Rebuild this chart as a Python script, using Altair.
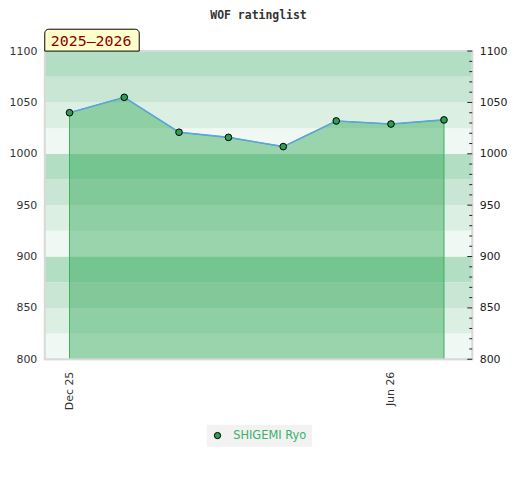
import altair as alt
import pandas as pd

# ---- data ----
dates = ["2025-12-01", "2026-01-01", "2026-02-01", "2026-03-01",
         "2026-04-01", "2026-05-01", "2026-06-01", "2026-07-01"]
ratings = [1040, 1055, 1021, 1016, 1007, 1032, 1029, 1033]
player = "SHIGEMI Ryo"
season = "2025–2026"

band_lo = [800, 825, 850, 875, 900, 925, 950, 975, 1000, 1025, 1050, 1075]
band_hi = [825, 850, 875, 900, 925, 950, 975, 1000, 1025, 1050, 1075, 1100]
band_level = [0, 1, 2, 3, 0, 1, 2, 3, 0, 1, 2, 3]

y_labels = [800, 850, 900, 950, 1000, 1050, 1100]
minor_ticks = [810, 820, 830, 840, 860, 870, 880, 890, 910, 920, 930, 940,
               960, 970, 980, 990, 1010, 1020, 1030, 1040, 1060, 1070, 1080, 1090]
major_ticks = [800, 850, 900, 950, 1000, 1050, 1100]

W, H = 430, 310
FONT = "DejaVu Sans"
MONO = "DejaVu Sans Mono"

series = pd.DataFrame({"date": dates, "rating": ratings, "player": player})
bands_df = pd.DataFrame({"lo": band_lo, "hi": band_hi, "level": band_level})
minor_df = pd.DataFrame({"v": minor_ticks})
major_df = pd.DataFrame({"v": major_ticks})
one_df = pd.DataFrame({"season": [season]})

yscale = alt.Scale(domain=[800, 1100], nice=False, zero=False)
xscale = alt.Scale(type="utc",
                   domain=[alt.DateTime(year=2025, month=11, date=17, utc=True),
                           alt.DateTime(year=2026, month=7, date=17, utc=True)])

xenc = alt.X("date:T", scale=xscale, title=None,
             axis=alt.Axis(values=[alt.DateTime(year=2025, month=12, date=1, utc=True),
                                   alt.DateTime(year=2026, month=6, date=1, utc=True)],
                           format="%b %y", labelAngle=270, ticks=False, domain=False,
                           grid=False, labelPadding=12, labelFont=FONT, labelFontSize=11,
                           labelColor="#333333"))

bands = alt.Chart(bands_df).mark_rect().encode(
    x=alt.value(0), x2=alt.value(W),
    y=alt.Y("lo:Q", scale=yscale, title=None,
            axis=alt.Axis(orient="left", values=y_labels, format="d", ticks=False,
                          domain=False, grid=False, labelPadding=8, labelFont=FONT,
                          labelFontSize=11, labelColor="#333333")),
    y2="hi:Q",
    fill=alt.Fill("level:O", scale=alt.Scale(domain=[0, 1, 2, 3],
                  range=["#eff8f2", "#dcefe3", "#c8e6d3", "#b2dec3"]), legend=None),
)

area = alt.Chart(series).mark_area(color="#22a34c", fillOpacity=0.42,
                                   stroke="#3cb05a", strokeWidth=1).encode(
    x=xenc,
    y=alt.Y("rating:Q", scale=yscale, axis=None),
    y2=alt.datum(800),
)

line = alt.Chart(series).mark_line(color="#5ba4dc", strokeWidth=1.6).encode(
    x=xenc,
    y=alt.Y("rating:Q", scale=yscale, axis=None),
)

points = alt.Chart(series).mark_point(filled=True, size=45, opacity=1,
                                      stroke="black", strokeWidth=1).encode(
    x=xenc,
    y=alt.Y("rating:Q", scale=yscale, axis=None),
    color=alt.Color("player:N", scale=alt.Scale(range=["#2e9e55"]),
                    legend=alt.Legend(orient="none", legendX=163, legendY=376,
                                      title=None, fillColor="#f2f2f2", padding=5,
                                      labelColor="#3cb06a", labelFont=FONT,
                                      labelFontSize=11.5, labelOffset=10,
                                      symbolType="circle", symbolSize=40,
                                      symbolStrokeColor="black", symbolStrokeWidth=1,
                                      symbolOpacity=1)),
)

border = alt.Chart(one_df).mark_rect(fillOpacity=0, stroke="#d9d9d9", strokeWidth=2).encode(
    x=alt.value(0), x2=alt.value(W), y=alt.value(0), y2=alt.value(H),
)

minor = alt.Chart(minor_df).mark_rule(color="#222222", strokeWidth=1).encode(
    x=alt.value(W - 3), x2=alt.value(W),
    y=alt.Y("v:Q", scale=yscale, axis=None),
)

major = alt.Chart(major_df).mark_rule(color="#222222", strokeWidth=1).encode(
    x=alt.value(W - 5), x2=alt.value(W),
    y=alt.Y("v:Q", scale=yscale, title=None,
            axis=alt.Axis(orient="right", values=y_labels, format="d", ticks=False,
                          domain=False, grid=False, labelPadding=7, labelFont=FONT,
                          labelFontSize=11, labelColor="#222222")),
)

box = alt.Chart(one_df).mark_rect(fill="#ffffcc", stroke="black", strokeWidth=1,
                                  cornerRadiusTopLeft=4, cornerRadiusTopRight=4).encode(
    x=alt.value(0), x2=alt.value(95), y=alt.value(-22), y2=alt.value(0),
)

box_text = alt.Chart(one_df).mark_text(font=MONO, fontSize=15, color="#8b0000",
                                       align="left", baseline="middle").encode(
    x=alt.value(6), y=alt.value(-10), text="season:N",
)

chart = alt.layer(bands, area, line, points, border, minor, major, box, box_text).resolve_axis(
    y="independent"
).properties(
    width=W, height=H,
    title=alt.TitleParams("WOF ratinglist", font=MONO, fontSize=11.5, fontWeight="bold",
                          color="#333333", anchor="middle", offset=7),
    autosize=alt.AutoSizeParams(type="none"),
    padding={"left": 37, "top": 42, "right": 40, "bottom": 100},
).configure_view(strokeWidth=0).configure(background="white")

chart.save("out.html", embed_options={"renderer": "svg", "actions": False})
